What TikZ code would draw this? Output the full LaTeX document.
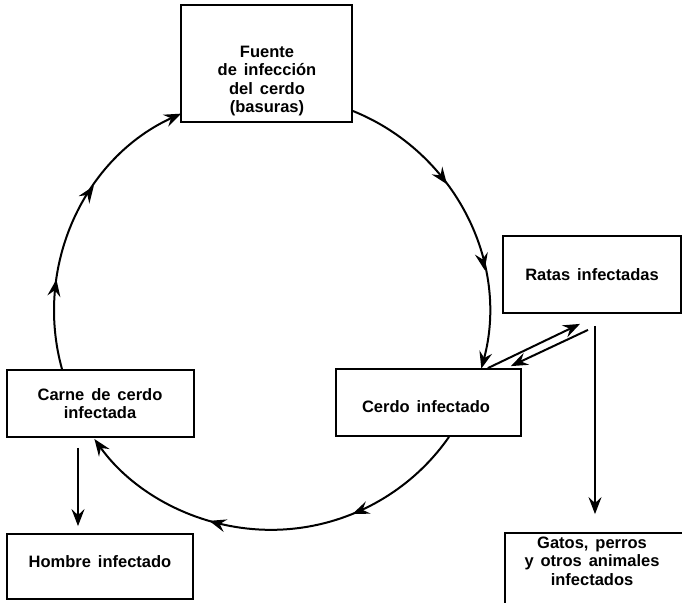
\documentclass[tikz,border=0pt]{standalone}
\usepackage{fontspec}
\setmainfont{Liberation Sans}
\usetikzlibrary{arrows.meta,decorations.markings}
\begin{document}
\begin{tikzpicture}[x=1pt,y=-1pt,
  box/.style={draw, line width=1.8pt, rectangle, inner sep=0pt},
  txt/.style={font=\fontsize{16.5}{18.5}\selectfont\bfseries, align=center, inner sep=0pt,
    execute at begin node={\spaceskip=0.42em\relax}},
  tipst/.tip={Stealth[length=17pt,width=13pt,inset=6pt]},
  conn/.style={line width=2pt, -tipst},
  midarrows/.style 2 args={postaction={decorate, decoration={markings,
      mark=at position #1 with {\arrow{tipst}},
      mark=at position #2 with {\arrow{tipst}}}}}
]
\useasboundingbox (0,0) rectangle (682,602);

% boxes
\node[box, minimum width=171pt, minimum height=117pt] (fuente) at (266.5,63.5) {};
\node[txt] (fuente-t) at (267,81) {Fuente\\de infección\\del cerdo\\(basuras)};

\node[box, minimum width=178pt, minimum height=77pt] (ratas) at (592,274.5) {};
\node[txt] (ratas-t) at (592,275) {Ratas infectadas};

\node[box, minimum width=185pt, minimum height=67pt] (cerdo) at (428.5,402.5) {};
\node[txt] (cerdo-t) at (426,407) {Cerdo infectado};

\node[box, minimum width=187pt, minimum height=67pt] (carne) at (100.5,403.5) {};
\node[txt] (carne-t) at (100,403.5) {Carne de cerdo\\infectada};

\node[box, minimum width=186pt, minimum height=65pt] (hombre) at (100,566.5) {};
\node[txt] (hombre-t) at (100,562) {Hombre infectado};

\node[box, minimum width=190pt, minimum height=72pt] (gatos) at (600,569) {};
\node[txt] (gatos-t) at (592,561) {Gatos, perros\\y otros animales\\infectados};

% cycle arcs
\draw[conn, midarrows={0.384}{0.684}]
  (fuente.east |- 0,111) arc[start angle=-68.05, end angle=15.05, radius=217];
\draw[conn, midarrows={0.302}{0.654}]
  (cerdo.south -| 449,0) arc[start angle=34.87, end angle=144.46, radius=217];
\draw[conn, midarrows={0.295}{0.626}]
  (carne.north -| 62,0) arc[start angle=164.49, end angle=245.5, radius=217];

% straight arrows
\draw[conn] ([xshift=-34pt]cerdo.north east) -- ([xshift=-12pt,yshift=-10pt]ratas.south);
\draw[conn] ([xshift=-4pt,yshift=-16pt]ratas.south) -- ([xshift=-11pt,yshift=2pt]cerdo.north east);
\draw[conn] ([xshift=3pt,yshift=-12pt]ratas.south) -- ([xshift=-5pt,yshift=18pt]gatos.north);
\draw[conn] ([xshift=-22.5pt,yshift=-10pt]carne.south) -- ([xshift=-22pt,yshift=7pt]hombre.north);
\end{tikzpicture}
\end{document}
